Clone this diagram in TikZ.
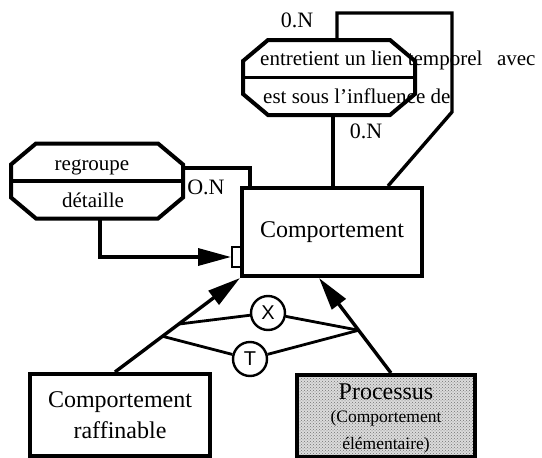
\documentclass[tikz,border=0pt]{standalone}
\usepackage{fontspec}
\setmainfont{Liberation Serif}
\newfontfamily\gatefont{Liberation Sans}
\usetikzlibrary{arrows.meta,calc,patterns}

\newcommand\boxfont{\fontsize{24}{31}\selectfont}
\newcommand\relfont{\fontsize{21}{25}\selectfont}
\newcommand\cardfont{\fontsize{22}{26}\selectfont}
\newcommand\notefont{\fontsize{17.5}{19}\selectfont}

% chamfered outline drawn around a (borderless) rectangle node
\newcommand\octoframe[1]{%
  \draw[octo] ([xshift=25pt]#1.north west) -- ([xshift=-25pt]#1.north east)
    -- ([yshift=-21pt]#1.north east) -- ([yshift=21pt]#1.south east)
    -- ([xshift=-25pt]#1.south east) -- ([xshift=25pt]#1.south west)
    -- ([yshift=21pt]#1.south west) -- ([yshift=-21pt]#1.north west) -- cycle;
  \draw[divider] (#1.west) -- (#1.east);}

\begin{document}
\begin{tikzpicture}[x=1pt,y=-1pt,
  entity/.style={draw, line width=4pt, inner sep=0pt, align=center, font=\boxfont},
  relation/.style={rectangle, minimum width=172pt, minimum height=75pt, inner sep=0pt, outer sep=0pt},
  octo/.style={line width=4pt, line join=miter},
  divider/.style={line width=3.2pt},
  link/.style={line width=3.4pt},
  gatelink/.style={line width=2.8pt},
  bigtip/.style={-{Triangle[length=33pt,width=17pt]}},
  gate/.style={circle, draw, line width=2.4pt, minimum size=34pt, inner sep=0pt,
    font=\gatefont\fontsize{20}{20}\selectfont},
  reltext/.style={font=\relfont, inner sep=0pt},
  card/.style={font=\cardfont, inner sep=0pt}
]
\useasboundingbox (0,0) rectangle (542,458);

% entities
\node[entity, minimum width=180pt, minimum height=88pt] (comp) at (332,232) {Comportement};
\node[entity, minimum width=180pt, minimum height=82pt] (raf) at (120,415) {Comportement\\raffinable};
\node[entity, minimum width=178pt, minimum height=82pt,
      preaction={fill=black!14},
      pattern=crosshatch dots, pattern color=black!55] (proc) at (386,416) {};
\node[align=center, font=\boxfont, inner sep=0pt] (procText) at ([yshift=-3pt]proc.center)
      {Processus\\[-8pt]{\notefont (Comportement}\\[-4pt]{\notefont élémentaire)}};
\node[draw, line width=2pt, minimum width=10pt, minimum height=20pt, inner sep=0pt] (port) at (237,257) {};

% relations
\node[relation] (rel) at (329,77.5) {};
\octoframe{rel}
\node[relation] (grp) at (97,181) {};
\octoframe{grp}

\node[reltext, anchor=base west] (relA) at (260,65) {entretient un lien temporel\hspace{0.45em} avec};
\node[reltext, anchor=base west] (relB) at (263,103) {est sous l{\char"0027}influence de};
\node[reltext, anchor=base] (grpA) at (92,170) {regroupe};
\node[reltext, anchor=base] (grpB) at (93,207) {détaille};

% cardinalities
\node[card] (cardA) at (297,20) {0.N};
\node[card] (cardB) at (366,131) {0.N};
\node[card] (cardC) at (206,187) {O.N};

% reflexive link
\coordinate (loopTR) at (452,13);
\coordinate (loopBR) at (452,112);
\draw[link] ([xshift=8pt]rel.north) |- (loopTR) -- (loopBR) -- ([xshift=56pt]comp.north);
\draw[link] ([xshift=4pt]rel.south) -- ([xshift=4pt]rel.south |- comp.north);

% grouping link
\draw[link] ([yshift=13pt]grp.east) -| ([xshift=-82pt]comp.north);
\draw[link, bigtip] ([xshift=3pt]grp.south) |- (port.west);

% specialisation
\coordinate (rafTop) at ([xshift=-5pt]raf.north);
\coordinate (procTop) at ([xshift=5pt]proc.north);
\coordinate (compL) at (comp.south west);
\coordinate (compR) at ([xshift=-13pt]comp.south);
\draw[link, bigtip] (rafTop) -- (compL);
\draw[link, bigtip] (procTop) -- (compR);

\coordinate (jx) at ($(rafTop)!0.51!(compL)$);
\coordinate (jt) at ($(rafTop)!0.38!(compL)$);
\coordinate (jr) at ($(procTop)!0.45!(compR)$);

\node[gate] (xor) at (268,313) {X};
\node[gate] (tot) at (250,359) {T};
\draw[gatelink] (jx) -- (xor) -- (jr);
\draw[gatelink] (jt) -- (tot) -- (jr);
\end{tikzpicture}
\end{document}
